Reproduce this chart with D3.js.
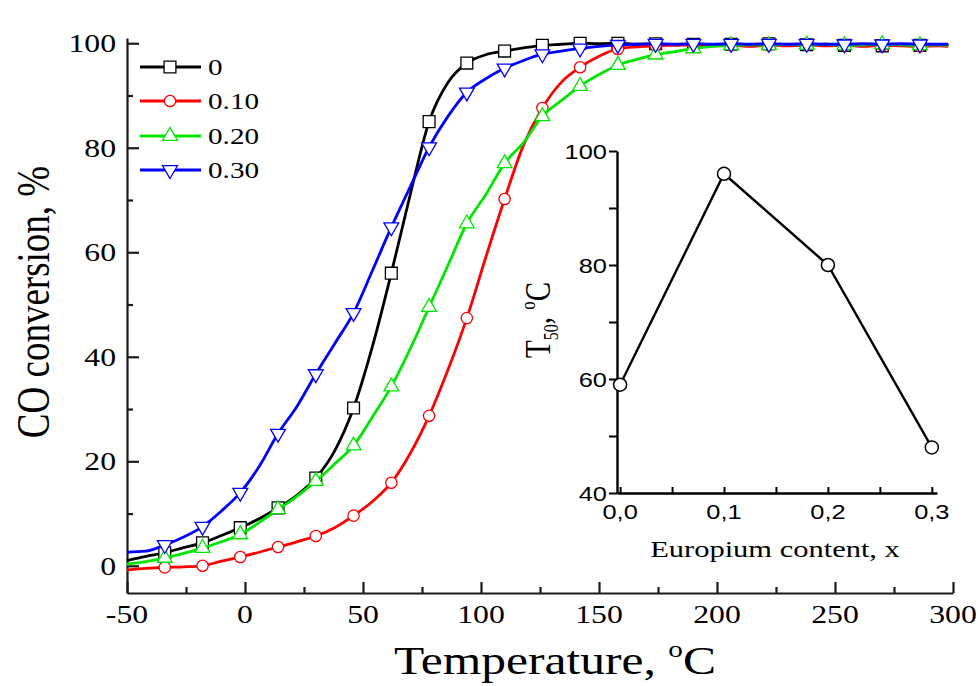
<!DOCTYPE html>
<html>
<head>
<meta charset="utf-8">
<script src="https://cdn.jsdelivr.net/npm/d3@7"></script>
<style>
  body { margin: 0; background: #fff; }
  svg { display: block; }
</style>
</head>
<body>
<div id="chart"></div>
<script>
// temperature grid (degC)
const temps = [-50, -42, -34, -26, -18, -10, -2, 6, 14, 22, 30, 38, 46, 54, 62, 70, 78, 86, 94, 102,
  110, 118, 126, 134, 142, 150, 158, 166, 174, 182, 190, 198, 206, 214, 222, 230, 238, 246, 254,
  262, 270, 278, 286, 294, 298];

// CO conversion, % for each europium content
const conv0 = [1.0, 1.8, 2.5, 3.5, 4.4, 5.8, 7.3, 9.0, 11.1, 13.5, 16.8, 22.0, 30.2, 42.0, 56.0, 71.0,
  85.0, 92.5, 96.2, 97.8, 98.5, 99.1, 99.6, 99.8, 100, 99.9, 100, 99.8, 99.9, 99.7, 99.8, 99.6, 99.8,
  99.7, 99.9, 99.6, 99.7, 99.8, 99.6, 99.7, 99.5, 99.7, 99.6, 99.7, 99.6];
const conv10 = [-0.8, -0.5, -0.3, -0.2, 0.0, 0.9, 1.7, 2.6, 3.6, 4.6, 5.7, 7.3, 9.6, 12.3, 15.9, 21.5,
  28.7, 37.5, 47.4, 59.0, 70.2, 80.5, 87.6, 92.5, 95.4, 97.5, 98.9, 99.3, 99.5, 99.6, 99.7, 99.5, 99.6,
  99.4, 99.6, 99.5, 99.7, 99.5, 99.6, 99.4, 99.6, 99.5, 99.4, 99.5, 99.4];
const conv20 = [0.3, 0.8, 1.5, 2.4, 3.4, 4.6, 6.0, 8.3, 10.8, 13.3, 16.2, 19.5, 23.0, 28.5, 34.3, 41.5,
  49.5, 57.5, 65.5, 71.0, 77.0, 81.0, 86.0, 89.0, 91.8, 94.0, 95.8, 96.9, 97.8, 98.4, 99.0, 99.4, 99.6,
  99.7, 99.6, 99.8, 99.7, 99.8, 99.6, 99.7, 99.8, 99.7, 99.6, 99.7, 99.6];
const conv30 = [2.6, 2.8, 4.0, 5.5, 7.5, 10.5, 14.0, 19.0, 25.3, 30.5, 36.7, 42.5, 48.4, 56.5, 64.8, 72.5,
  80.1, 86.0, 90.6, 93.2, 95.2, 96.7, 97.9, 98.5, 99.0, 99.4, 99.7, 99.8, 99.9, 99.8, 99.9, 99.8, 99.9,
  99.8, 99.9, 99.8, 99.9, 99.8, 99.8, 99.9, 99.8, 99.9, 99.8, 99.8, 99.8];

const seriesLabels = ["0", "0.10", "0.20", "0.30"];
const seriesColors = ["#000000", "#ff0000", "#00e600", "#0000ff"];
const seriesSymbols = ["square", "circle", "triUp", "triDown"];

// inset: T50 vs europium content
const euContent = [0, 0.1, 0.2, 0.3];
const t50 = [59, 96, 80, 48];

const xTicks = [-50, 0, 50, 100, 150, 200, 250, 300];
const yTicks = [0, 20, 40, 60, 80, 100];
const insetXTicks = [0, 0.1, 0.2, 0.3];
const insetYTicks = [40, 60, 80, 100];

// the picture is stretched sideways a bit, so text is too
const SX = 1.27;

const width = 978, height = 686;
const svg = d3.select("#chart").append("svg")
  .attr("width", width).attr("height", height);

const serif = "'Liberation Serif', 'Times New Roman', serif";
const sans = "'Liberation Sans', Arial, sans-serif";

function stretchText(parent, x, y, size, family, anchor, rotate) {
  return parent.append("text")
    .attr("transform", `translate(${x},${y}) scale(${SX},1)` + (rotate ? " rotate(-90)" : ""))
    .attr("font-family", family)
    .attr("font-size", size)
    .attr("text-anchor", anchor)
    .attr("fill", "#000");
}

function symbolPath(kind, size) {
  if (kind === "square") return d3.symbol(d3.symbolSquare, size)();
  if (kind === "circle") return d3.symbol(d3.symbolCircle, size)();
  return d3.symbol(d3.symbolTriangle, size)();
}
const symSize = { square: 140, circle: 100, triUp: 95, triDown: 95 };

// === MAIN PLOT ===
const x = d3.scaleLinear().domain([-50, 300]).range([127, 953]);
const y = d3.scaleLinear().domain([-5.2, 101]).range([593, 38]);

// major + minor ticks pointing inward
const xMinor = xTicks.slice(0, -1).map(v => v + 25);
const yMinor = yTicks.slice(0, -1).map(v => v + 10);

const axes = svg.append("g");
axes.append("g").attr("transform", "translate(0,593)")
  .call(d3.axisBottom(x).tickValues(xMinor).tickSizeInner(-6).tickSizeOuter(0).tickFormat(""))
  .call(g => g.select(".domain").remove());
axes.append("g").attr("transform", "translate(0,593)")
  .call(d3.axisBottom(x).tickValues(xTicks).tickSizeInner(-11).tickSizeOuter(0).tickFormat(""));
axes.append("g").attr("transform", "translate(127,0)")
  .call(d3.axisLeft(y).tickValues(yMinor).tickSizeInner(-6).tickSizeOuter(0).tickFormat(""))
  .call(g => g.select(".domain").remove());
axes.append("g").attr("transform", "translate(127,0)")
  .call(d3.axisLeft(y).tickValues(yTicks).tickSizeInner(-12).tickSizeOuter(0).tickFormat(""));

axes.selectAll(".domain").attr("stroke", "#1a1a1a").attr("stroke-width", 2.2);
axes.selectAll(".tick line").attr("stroke", "#1a1a1a").attr("stroke-width", 2.2);

xTicks.forEach(v => stretchText(svg, x(v), 623, 25, serif, "middle").text(v));
yTicks.forEach(v => stretchText(svg, 116, y(v) + 9, 25, serif, "end").text(v));

// axis titles
const xt = stretchText(svg, 555, 674, 39, serif, "middle");
xt.append("tspan").text("Temperature, ");
xt.append("tspan").attr("font-size", 23).attr("dy", -17).text("o");
xt.append("tspan").attr("dy", 17).text("C");

stretchText(svg, 49, 302, 37, serif, "middle", true).text("CO conversion, %");

// curves
const allSeries = [conv0, conv10, conv20, conv30].map((vals, i) => ({
  label: seriesLabels[i],
  color: seriesColors[i],
  symbol: seriesSymbols[i],
  values: temps.map((t, j) => ({ t, v: vals[j] }))
}));

const line = d3.line().x(d => x(d.t)).y(d => y(d.v)).curve(d3.curveMonotoneX);

allSeries.forEach(s => {
  svg.append("path")
    .datum(s.values)
    .attr("d", line)
    .attr("fill", "none")
    .attr("stroke", s.color)
    .attr("stroke-width", 2.8);

  // a marker every 16 degC, from -34 up to 286
  const marks = s.values.filter((d, j) => j >= 2 && j % 2 === 0 && d.t <= 286);
  svg.selectAll(null)
    .data(marks)
    .enter()
    .append("path")
      .attr("d", symbolPath(s.symbol, symSize[s.symbol]))
      .attr("transform", d => `translate(${x(d.t)},${y(d.v)})` + (s.symbol === "triDown" ? " rotate(180)" : ""))
      .attr("fill", "#fff")
      .attr("stroke", s.color)
      .attr("stroke-width", 1.3);
});

// legend
const legendY = [67, 101, 136, 170];
allSeries.forEach((s, i) => {
  const ly = legendY[i];
  svg.append("line")
    .attr("x1", 140).attr("x2", 201).attr("y1", ly).attr("y2", ly)
    .attr("stroke", s.color).attr("stroke-width", 2.8);
  svg.append("path")
    .attr("d", symbolPath(s.symbol, symSize[s.symbol]))
    .attr("transform", `translate(170,${ly})` + (s.symbol === "triDown" ? " rotate(180)" : ""))
    .attr("fill", "#fff").attr("stroke", s.color).attr("stroke-width", 1.3);
  stretchText(svg, 208, ly + 8, 23, serif, "start").text(s.label);
});

// === INSET ===
const ix = d3.scaleLinear().domain([-0.003, 0.305]).range([617, 937]);
const iy = d3.scaleLinear().domain([40, 100]).range([493, 151]);

const inset = svg.append("g");
inset.append("g").attr("transform", "translate(0,493)")
  .call(d3.axisBottom(ix).tickValues([0, 0.05, 0.1, 0.15, 0.2, 0.25, 0.3]).tickSizeInner(-6).tickSizeOuter(0).tickFormat(""));
inset.append("g").attr("transform", "translate(617,0)")
  .call(d3.axisLeft(iy).tickValues([40, 50, 60, 70, 80, 90, 100]).tickSizeInner(8).tickSizeOuter(0).tickFormat(""));
inset.selectAll(".domain").attr("stroke", "#000").attr("stroke-width", 2.4);
inset.selectAll(".tick line").attr("stroke", "#000").attr("stroke-width", 2);

const commaFmt = v => d3.format(".1f")(v).replace(".", ",");
insetXTicks.forEach(v => stretchText(inset, ix(v), 519, 20, sans, "middle").text(commaFmt(v)));
insetYTicks.forEach(v => stretchText(inset, 607, iy(v) + 8, 20, sans, "end").text(v));

stretchText(inset, 775, 557, 24, serif, "middle").text("Europium content, x");
const it = stretchText(inset, 550, 320, 29, serif, "middle", true);
it.append("tspan").text("T");
it.append("tspan").attr("font-size", 16).attr("dy", 6).text("50");
it.append("tspan").attr("dy", -6).text(", ");
it.append("tspan").attr("font-size", 17).attr("dy", -12).text("o");
it.append("tspan").attr("dy", 12).text("C");

const insetData = euContent.map((e, i) => ({ e, t: t50[i] }));
inset.append("path")
  .datum(insetData)
  .attr("d", d3.line().x(d => ix(d.e)).y(d => iy(d.t)))
  .attr("fill", "none").attr("stroke", "#000").attr("stroke-width", 2.4);
inset.selectAll("circle")
  .data(insetData)
  .enter()
  .append("circle")
    .attr("cx", d => ix(d.e))
    .attr("cy", d => iy(d.t))
    .attr("r", 6.5)
    .attr("fill", "#fff")
    .attr("stroke", "#000")
    .attr("stroke-width", 1.5);
</script>
</body>
</html>
